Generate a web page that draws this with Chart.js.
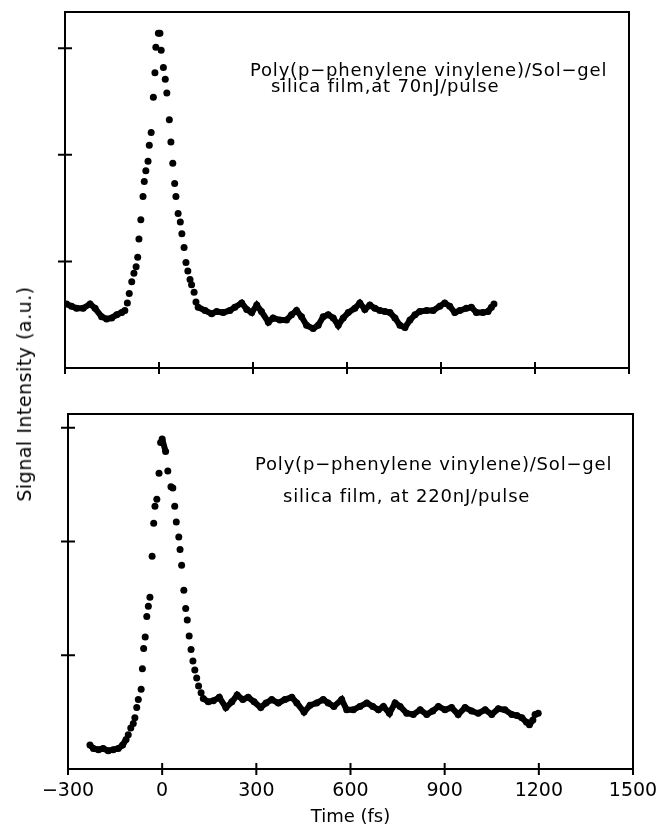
<!DOCTYPE html>
<html>
<head>
<meta charset="utf-8">
<script src="https://cdn.jsdelivr.net/npm/chart.js@4.4.0/dist/chart.umd.min.js"></script>
<style>
  body { margin: 0; background: #fff; width: 661px; height: 835px; position: relative; overflow: hidden; font-family: "DejaVu Sans", sans-serif; }
  #topChart { position: absolute; left: 0; top: 0; }
  #bottomChart { position: absolute; left: 0; top: 400px; }
  #yLabel { position: absolute; left: 24px; top: 394px; transform: translate(-50%, -50%) rotate(-90deg); white-space: nowrap; font-size: 19px; letter-spacing: 0.5px; color: #000; }
</style>
</head>
<body>
<canvas id="topChart" width="661" height="400"></canvas>
<canvas id="bottomChart" width="661" height="435"></canvas>
<div id="yLabel">Signal Intensity (a.u.)</div>
<script>
// tick values
const xTicks = [-300, 0, 300, 600, 900, 1200, 1500];
const yTicks = [1, 2, 3];

// top panel: 70 nJ/pulse
const topTime = [
  -295, -279, -263, -242, -220, -204, -183, -167, -151, -135, -119, -109, -101,
  -95, -87, -80, -73, -68, -64, -58, -51, -47, -42, -35, -31, -25, -18, -13, -10, -2, 3,
  7, 14, 20, 25, 33, 38, 44, 50, 54, 61, 68, 73, 80, 86, 92, 99, 104, 112, 118, 125,
  147, 168, 184, 205, 226, 242, 264, 280, 296, 312, 327, 349, 364, 386, 407, 423, 439, 455,
  471, 492, 508, 524, 540, 556, 572, 588, 604, 625, 641, 657, 673, 689, 705, 721, 737, 753,
  769, 785, 801, 817, 832, 854, 875, 896, 912, 928, 944, 960, 981, 997, 1013, 1034, 1050, 1061, 1069
];
const topSignal = [
  0.60, 0.58, 0.56, 0.56, 0.60, 0.56, 0.48, 0.46, 0.47, 0.50, 0.52, 0.54, 0.61,
  0.70, 0.81, 0.89, 0.95, 1.04, 1.21, 1.39, 1.61, 1.75, 1.85, 1.94, 2.09, 2.21, 2.54, 2.77, 3.01, 3.14, 3.14,
  2.98, 2.82, 2.71, 2.58, 2.33, 2.12, 1.92, 1.73, 1.61, 1.45, 1.37, 1.26, 1.13, 0.99, 0.91, 0.83, 0.78, 0.71, 0.62, 0.57,
  0.54, 0.51, 0.53, 0.52, 0.54, 0.57, 0.61, 0.55, 0.52, 0.59, 0.53, 0.43, 0.47, 0.45, 0.45, 0.50, 0.54, 0.48,
  0.40, 0.37, 0.40, 0.48, 0.50, 0.47, 0.40, 0.47, 0.52, 0.56, 0.61, 0.55, 0.59, 0.56, 0.54, 0.53, 0.52, 0.47,
  0.40, 0.38, 0.45, 0.50, 0.53, 0.54, 0.54, 0.58, 0.61, 0.58, 0.52, 0.54, 0.56, 0.57, 0.52, 0.52, 0.53, 0.57, 0.60
];

// bottom panel: 220 nJ/pulse
const bottomTime = [
  -230, -219, -203, -188, -172, -156, -140, -126, -115, -108, -100, -92, -87, -81, -76, -67,
  -63, -59, -54, -49, -44, -39, -32, -27, -23, -17, -10, -5, 0,
  11, 18, 28, 34, 40, 45, 53, 57, 62, 69, 75, 80, 86, 92, 98, 104, 110, 116, 124, 131,
  147, 163, 182, 203, 222, 239, 257, 274, 293, 314, 331, 349, 370, 391, 413, 429, 452, 471,
  492, 513, 529, 547, 572, 588, 609, 630, 652, 671, 689, 705, 724, 742, 758, 779, 800, 822,
  843, 862, 880, 901, 922, 943, 965, 986, 1007, 1029, 1050, 1071, 1092, 1114, 1130, 1146,
  1161, 1170, 1181, 1188, 1198
];
const bottomSignal = [
  0.21, 0.18, 0.17, 0.18, 0.16, 0.17, 0.18, 0.21, 0.26, 0.30, 0.36, 0.40, 0.45, 0.54, 0.61, 0.70,
  0.88, 1.06, 1.16, 1.34, 1.43, 1.51, 1.87, 2.16, 2.31, 2.37, 2.60, 2.87, 2.90,
  2.79, 2.62, 2.48, 2.47, 2.31, 2.17, 2.04, 1.93, 1.79, 1.57, 1.41, 1.31, 1.17, 1.05, 0.95, 0.87, 0.80, 0.73, 0.67, 0.62,
  0.59, 0.60, 0.63, 0.54, 0.59, 0.65, 0.61, 0.63, 0.59, 0.54, 0.58, 0.61, 0.58, 0.61, 0.63, 0.58, 0.50, 0.56,
  0.58, 0.61, 0.58, 0.55, 0.61, 0.52, 0.52, 0.55, 0.58, 0.55, 0.52, 0.55, 0.49, 0.58, 0.55, 0.49, 0.48, 0.52,
  0.48, 0.51, 0.55, 0.52, 0.54, 0.48, 0.54, 0.51, 0.49, 0.52, 0.48, 0.53, 0.52, 0.48, 0.47, 0.45,
  0.41, 0.39, 0.43, 0.48, 0.49
];

const topNotes = ['Poly(p\u2212phenylene vinylene)/Sol\u2212gel', 'silica film,at 70nJ/pulse'];
const bottomNotes = ['Poly(p\u2212phenylene vinylene)/Sol\u2212gel', 'silica film, at 220nJ/pulse'];

const toPoints = (xs, ys) => xs.map((v, i) => ({ x: v, y: ys[i] }));

// frame, crossing ticks and the sample notes
const framePlugin = {
  id: 'frame',
  afterDatasetsDraw(chart, args, opts) {
    const { ctx, chartArea: a, scales: { x, y } } = chart;
    ctx.save();
    ctx.strokeStyle = '#000';
    ctx.lineWidth = 2;
    ctx.strokeRect(a.left, a.top, a.right - a.left, a.bottom - a.top);
    ctx.beginPath();
    xTicks.forEach(v => {
      const px = x.getPixelForValue(v);
      ctx.moveTo(px, a.bottom - 6);
      ctx.lineTo(px, a.bottom + 6);
    });
    yTicks.forEach(v => {
      const py = y.getPixelForValue(v);
      ctx.moveTo(a.left - 7, py);
      ctx.lineTo(a.left + 7, py);
    });
    ctx.stroke();
    ctx.fillStyle = '#000';
    ctx.font = '18px "DejaVu Sans"';
    ctx.letterSpacing = '0.8px';
    ctx.textBaseline = 'middle';
    opts.notes.forEach((t, i) => ctx.fillText(t, opts.pos[i][0], opts.pos[i][1]));
    ctx.restore();
  }
};

function makeDataset(xs, ys) {
  return {
    data: toPoints(xs, ys),
    showLine: true,
    borderColor: '#000',
    borderWidth: 6,
    pointRadius: 3.5,
    pointBackgroundColor: '#000',
    pointBorderWidth: 0,
    tension: 0,
    segment: {
      // join only the tightly packed points of the noisy baseline
      borderColor: c => {
        const dx = Math.abs(c.p1.x - c.p0.x), dy = Math.abs(c.p1.y - c.p0.y);
        return (dx >= 3 && dy < 14) ? '#000' : 'rgba(0,0,0,0)';
      }
    }
  };
}

const noEdgePad = s => { s.paddingLeft = 0; s.paddingRight = 0; };

const topChart = new Chart(document.getElementById('topChart'), {
  type: 'scatter',
  data: { datasets: [makeDataset(topTime, topSignal)] },
  options: {
    responsive: false,
    animation: false,
    layout: { padding: { left: 65, right: 32, top: 12, bottom: 32 } },
    plugins: {
      legend: { display: false },
      tooltip: { enabled: false },
      frame: { notes: topNotes, pos: [[250, 71], [271, 87]] }
    },
    scales: {
      x: {
        type: 'linear', min: -300, max: 1500,
        grid: { display: false, drawTicks: false }, border: { display: false },
        ticks: { display: false },
        afterFit: s => { s.height = 0; noEdgePad(s); }
      },
      y: {
        min: 0, max: 3.34,
        grid: { display: false, drawTicks: false }, border: { display: false },
        ticks: { display: false },
        afterFit: s => { s.width = 0; }
      }
    }
  },
  plugins: [framePlugin]
});

const bottomChart = new Chart(document.getElementById('bottomChart'), {
  type: 'scatter',
  data: { datasets: [makeDataset(bottomTime, bottomSignal)] },
  options: {
    responsive: false,
    animation: false,
    layout: { padding: { left: 68, right: 28, top: 14, bottom: 0 } },
    plugins: {
      legend: { display: false },
      tooltip: { enabled: false },
      frame: { notes: bottomNotes, pos: [[255, 65], [283, 97]] }
    },
    scales: {
      x: {
        type: 'linear', min: -300, max: 1500,
        grid: { display: false, drawTicks: false }, border: { display: false },
        ticks: {
          stepSize: 300, autoSkip: false, maxRotation: 0, padding: 11,
          color: '#000', font: { family: 'DejaVu Sans', size: 19 },
          callback: v => String(v).replace('-', '\u2212')
        },
        title: {
          display: true, text: 'Time (fs)', color: '#000',
          font: { family: 'DejaVu Sans', size: 18 }, padding: { top: 0, bottom: 7 }
        },
        afterFit: s => { s.height = 66; noEdgePad(s); }
      },
      y: {
        min: 0, max: 3.12,
        grid: { display: false, drawTicks: false }, border: { display: false },
        ticks: { display: false },
        afterFit: s => { s.width = 0; }
      }
    }
  },
  plugins: [framePlugin]
});
</script>
</body>
</html>
